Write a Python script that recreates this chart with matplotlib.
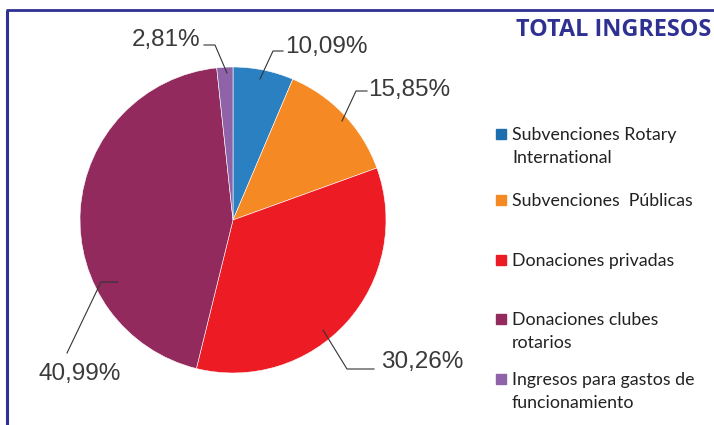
import matplotlib.pyplot as plt

# slice sizes as drawn, and the percentages printed beside them
categories = ["Subvenciones Rotary\nInternational", "Subvenciones  Públicas",
              "Donaciones privadas", "Donaciones clubes\nrotarios",
              "Ingresos para gastos de\nfuncionamiento"]
sizes = [6.4, 13.1, 34.4, 44.5, 1.7]
pct_labels = ["10,09%", "15,85%", "30,26%", "40,99%", "2,81%"]
colors = ["#2b80c2", "#f58a24", "#ed1c24", "#922a5e", "#8e63a8"]
legend_colors = ["#1c6eaf", "#f58a24", "#ed1c24", "#922a5e", "#8e63a8"]

W, H = 714, 425
fig = plt.figure(figsize=(W / 100, H / 100), dpi=100)

# pie
cx, cy, r = 233, 220, 153
ax = fig.add_axes([(cx - r) / W, (H - cy - r) / H, 2 * r / W, 2 * r / H])
ax.pie(sizes, colors=colors, startangle=90, counterclock=False,
       wedgeprops=dict(linewidth=0.4, edgecolor="white"))
ax.set_xlim(-1, 1)
ax.set_ylim(-1, 1)
ax.set_aspect("equal")

# overlay in pixel coordinates for frame, labels, legend
ov = fig.add_axes([0, 0, 1, 1], facecolor="none")
ov.set_xlim(0, W)
ov.set_ylim(H, 0)
ov.axis("off")

navy = "#2e3192"
ov.plot([6, W], [10, 10], color=navy, lw=2, solid_capstyle="butt")
ov.plot([6.5, 6.5], [10, H], color=navy, lw=2.2, solid_capstyle="butt")
ov.text(711, 30, "TOTAL INGRESOS", color=navy, fontsize=16.8, fontweight="bold",
        family="Open Sans", ha="right", va="center")

# leader lines and percentage labels
leaders = [
    [(260, 79), (273, 51), (283, 51)],
    [(342, 121), (356, 91), (367, 91)],
    [(323, 330), (347, 369), (374, 369)],
    [(118, 282), (101, 282), (67, 353)],
    [(227, 73), (215, 45), (204, 45)],
]
text_pos = [(285, 47, "left"), (368, 90, "left"), (381, 362, "left"),
            (80, 374, "center"), (200, 40, "right")]
for pts, (tx, ty, ha), lab in zip(leaders, text_pos, pct_labels):
    xs, ys = zip(*pts)
    ov.plot(xs, ys, color="#333333", lw=0.8)
    ov.text(tx, ty, lab, fontsize=17.5, family="Liberation Sans",
            color="#3a3a3a", ha=ha, va="center")

# legend
legend_y = [134, 200, 260, 319, 379]
for y, lab, c in zip(legend_y, categories, legend_colors):
    ov.add_patch(plt.Rectangle((496, y - 5), 9.5, 9.5, color=c))
    for i, line in enumerate(lab.split("\n")):
        ov.text(512, y + 1 + 23 * i, line, fontsize=12.8, family="Lato",
                color="#222222", ha="left", va="center")

fig.savefig("out.png", dpi=100)
